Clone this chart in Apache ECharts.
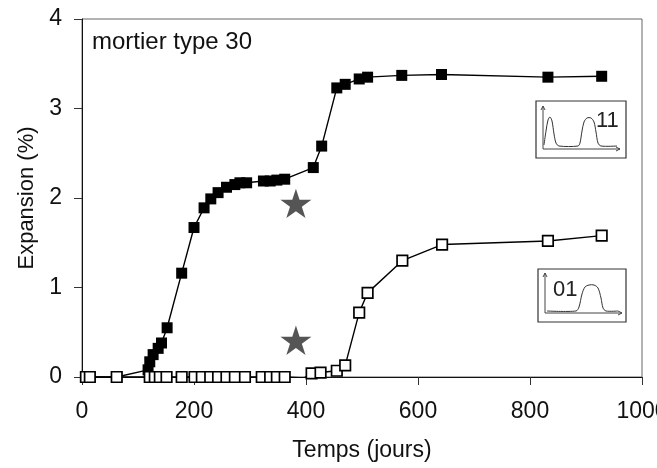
<!DOCTYPE html>
<html>
<head>
<meta charset="utf-8">
<script src="https://cdn.jsdelivr.net/npm/echarts@6/dist/echarts.min.js"></script>
<style>html,body{margin:0;padding:0;background:#fff}#c{width:657px;height:468px}</style>
</head>
<body>
<div id="c"></div>
<script>
// ---- data ----
var xTicks = [0, 200, 400, 600, 800, 1000];
var yTicks = [0, 1, 2, 3, 4];
var filledX = [7, 14, 62, 118, 121, 127, 136, 142, 152, 178, 200, 218, 230, 243, 258, 273, 282, 294, 324, 336, 348, 362, 413, 428, 455, 470, 495, 510, 571, 642, 832, 928];
var filledY = [0, 0, 0, 0.08, 0.17, 0.25, 0.32, 0.38, 0.55, 1.16, 1.67, 1.89, 1.99, 2.06, 2.12, 2.15, 2.17, 2.17, 2.19, 2.19, 2.20, 2.21, 2.34, 2.58, 3.23, 3.27, 3.33, 3.35, 3.37, 3.38, 3.35, 3.36];
var hollowX = [7, 14, 62, 121, 130, 139, 151, 178, 201, 214, 229, 243, 258, 273, 291, 321, 336, 348, 362, 397, 410, 426, 455, 470, 495, 510, 572, 643, 832, 928];
var hollowY = [0, 0, 0, 0, 0, 0, 0, 0, 0, 0, 0, 0, 0, 0, 0, 0, 0, 0, 0, -0.01, 0.04, 0.05, 0.07, 0.13, 0.72, 0.94, 1.30, 1.48, 1.52, 1.58];
var starX = [382, 382];
var starY = [1.94, 0.41];
var titleText = 'mortier type 30';
var xName = 'Temps (jours)';
var yName = 'Expansion (%)';
var inset1Label = '11';
var inset2Label = '01';

function zip(a, b) { return a.map(function (v, i) { return [v, b[i]]; }); }

var FONT = 'Liberation Sans, Arial, sans-serif';
var starPath = 'path://M50,0 L61.2,34.5 L97.6,34.5 L68.2,55.9 L79.4,90.5 L50,69.1 L20.6,90.5 L31.8,55.9 L2.4,34.5 L38.8,34.5 Z';

var chart = echarts.init(document.getElementById('c'), null, {renderer: 'canvas'});

function arrowUp(x, y) { return {type: 'polyline', shape: {points: [[x - 2, y + 4], [x, y], [x + 2, y + 4]]}, style: {stroke: '#444', fill: null, lineWidth: 1}}; }
function arrowRight(x, y) { return {type: 'polyline', shape: {points: [[x - 4, y - 2], [x, y], [x - 4, y + 2]]}, style: {stroke: '#444', fill: null, lineWidth: 1}}; }

var option = {
  backgroundColor: '#fff',
  animation: false,
  grid: {left: 82, right: 15, top: 19, bottom: 91, show: true, borderColor: '#666', borderWidth: 1, backgroundColor: 'transparent', containLabel: false, outerBoundsMode: 'none'},
  xAxis: {
    type: 'value', min: xTicks[0], max: xTicks[xTicks.length - 1], interval: 200,
    name: xName, nameLocation: 'middle', nameGap: 62,
    nameTextStyle: {fontSize: 23, color: '#111', fontFamily: FONT},
    axisLine: {show: true, onZero: false, lineStyle: {color: '#111', width: 1}},
    axisTick: {show: true, inside: false, length: 8, lineStyle: {color: '#333'}},
    axisLabel: {fontSize: 23, color: '#111', margin: 23, fontFamily: FONT, formatter: function (v) { return String(v); }},
    splitLine: {show: false}
  },
  yAxis: {
    type: 'value', min: yTicks[0], max: yTicks[yTicks.length - 1], interval: 1,
    name: yName, nameLocation: 'middle', nameGap: 44, nameRotate: 90,
    nameTextStyle: {fontSize: 22, color: '#111', fontFamily: FONT},
    axisLine: {show: true, onZero: false, lineStyle: {color: '#111', width: 1}},
    axisTick: {show: true, inside: false, length: 8, lineStyle: {color: '#333'}},
    axisLabel: {fontSize: 23, color: '#111', margin: 20, fontFamily: FONT, formatter: function (v) { return String(v); }},
    splitLine: {show: false}
  },
  series: [
    {
      type: 'line', data: zip(filledX, filledY), symbol: 'rect', symbolSize: 11,
      itemStyle: {color: '#000'}, lineStyle: {color: '#000', width: 1.4}, z: 2
    },
    {
      type: 'line', data: zip(hollowX, hollowY), symbol: 'rect', symbolSize: 10.5,
      itemStyle: {color: '#fff', borderColor: '#000', borderWidth: 1.7}, lineStyle: {color: '#000', width: 1.4}, z: 3
    },
    {
      type: 'scatter', data: zip(starX, starY), symbol: starPath, symbolSize: 31, symbolKeepAspect: true,
      itemStyle: {color: '#2b2b2b'}, z: 4
    }
  ],
  graphic: [
    {type: 'text', left: 92, top: 30, style: {text: titleText, fontSize: 24, fill: '#111', font: '24px ' + FONT}},
    // inset 1
    {type: 'group', children: [
      {type: 'rect', shape: {x: 536, y: 101, width: 90, height: 57}, style: {fill: '#fff', stroke: '#333', lineWidth: 1.2}},
      {type: 'line', shape: {x1: 543, y1: 106, x2: 543, y2: 149}, style: {stroke: '#444', lineWidth: 1}},
      {type: 'line', shape: {x1: 543, y1: 149, x2: 620, y2: 149}, style: {stroke: '#444', lineWidth: 1}},
      arrowUp(543, 106), arrowRight(620, 149),
      {type: 'polyline', shape: {smooth: 0.3, points: [[544, 145], [546, 131], [548, 120], [550, 117], [552, 121], [554, 134], [556, 143], [559, 146], [578, 146], [580, 143], [582, 131], [584, 122], [587, 118], [591, 118], [594, 122], [596, 132], [598, 143], [601, 146], [617, 146]]}, style: {stroke: '#333', fill: null, lineWidth: 1}},
      {type: 'text', x: 596, y: 110, style: {text: inset1Label, font: '22px ' + FONT, fill: '#222'}}
    ]},
    // inset 2
    {type: 'group', children: [
      {type: 'rect', shape: {x: 538, y: 269, width: 88, height: 53}, style: {fill: '#fff', stroke: '#333', lineWidth: 1.2}},
      {type: 'line', shape: {x1: 545, y1: 273, x2: 545, y2: 313}, style: {stroke: '#444', lineWidth: 1}},
      {type: 'line', shape: {x1: 545, y1: 313, x2: 622, y2: 313}, style: {stroke: '#444', lineWidth: 1}},
      arrowUp(545, 273), arrowRight(622, 313),
      {type: 'polyline', shape: {smooth: 0.3, points: [[547, 311], [576, 311], [579, 307], [582, 294], [585, 287], [589, 285], [594, 285], [598, 288], [601, 298], [603, 308], [606, 311], [618, 311]]}, style: {stroke: '#333', fill: null, lineWidth: 1}},
      {type: 'text', x: 553, y: 279, style: {text: inset2Label, font: '22px ' + FONT, fill: '#222'}}
    ]}
  ]
};
chart.setOption(option);
</script>
</body>
</html>
